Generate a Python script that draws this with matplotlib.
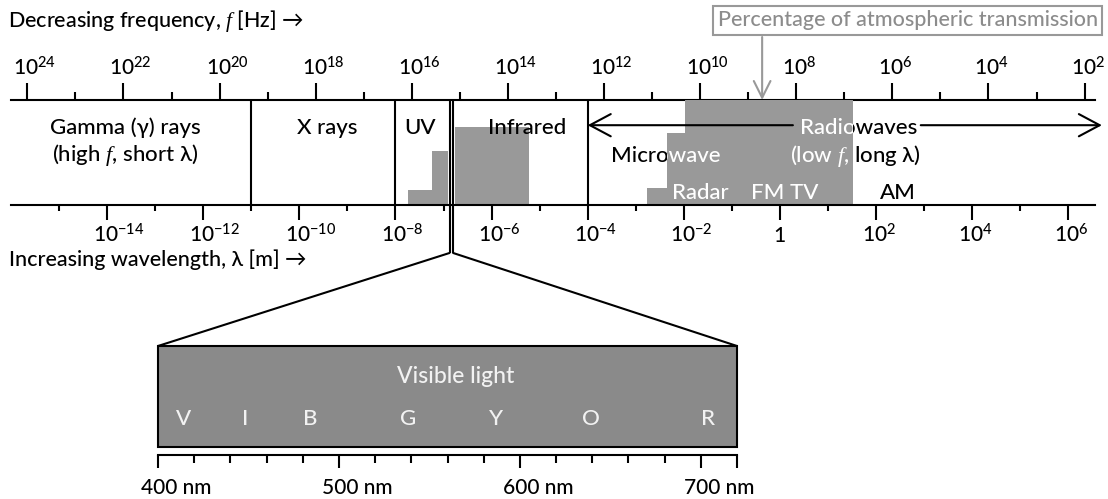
import numpy as np
import matplotlib
matplotlib.use('Agg')
import matplotlib.pyplot as plt
from matplotlib.patches import Rectangle, ConnectionPatch
from matplotlib.transforms import ScaledTranslation, Bbox, TransformedBbox

plt.rcParams['font.family'] = ['Lato', 'DejaVu Sans']
plt.rcParams['font.weight'] = 'medium'
plt.rcParams['mathtext.fontset'] = 'custom'
plt.rcParams['mathtext.rm'] = 'Lato:medium'
plt.rcParams['mathtext.it'] = 'Liberation Serif:italic'

# wavelength axis, in log10(metres)
WAVE_MAJOR = np.arange(-14, 7, 2)
WAVE_MINOR = np.arange(-15, 6, 2)
# frequency axis, in log10(Hz)
FREQ_MAJOR = np.arange(24, 1, -2)
FREQ_MINOR = np.arange(23, 2, -2)
FREQ_SHIFT = 8.34          # log10 f = FREQ_SHIFT - log10 lambda (as drawn)

BAND_EDGES = [-11, -8, -4]          # gamma|x, x|uv, ir|microwave
VISIBLE_EDGES = [-6.875, -6.80]     # the thin visible slot

# percentage of atmospheric transmission (step blocks)
TRANS_LEFT = [-7.73, -7.24, -6.76, -2.76, -2.35, -1.98]
TRANS_RIGHT = [-7.24, -6.90, -5.23, -2.35, -1.98, 1.52]
TRANS_PCT = [14, 51, 74, 16, 69, 100]

# visible light close-up
NM_MAJOR = [400, 500, 600, 700, 720]
NM_LABELS = ['400 nm', '500 nm', '600 nm', '700 nm', '']
NM_MINOR = np.arange(420, 720, 20)
COLOR_LETTERS = ['V', 'I', 'B', 'G', 'Y', 'O', 'R']
COLOR_NM = [414, 448, 484, 538, 587, 639, 704]

LW = 1.5
GREY = '#999999'
FS = 15.5

fig = plt.figure(figsize=(11.08, 4.99), dpi=100)
ax = fig.add_axes([11 / 1108, 1 - 205 / 499, 1083.7 / 1108, 105 / 499])
ax.set_xlim(-16.0, 6.55)
ax.set_ylim(0, 100)

ax.bar(TRANS_LEFT, TRANS_PCT, width=np.subtract(TRANS_RIGHT, TRANS_LEFT),
       align='edge', color=GREY, linewidth=0, zorder=1)
for x in BAND_EDGES:
    ax.axvline(x, color='black', lw=LW, zorder=2)
ax.vlines(VISIBLE_EDGES, -45.7, 100, color='black', lw=LW, clip_on=False, zorder=2)

for s in ['left', 'right', 'top']:
    ax.spines[s].set_visible(False)
ax.spines['bottom'].set_linewidth(LW)
ax.set_yticks([])

wave_labels = ['1' if n == 0 else f'$10^{{{n}}}$' for n in WAVE_MAJOR]
ax.set_xticks(WAVE_MAJOR, wave_labels)
ax.set_xticks(WAVE_MINOR, minor=True)
ax.tick_params(axis='x', which='major', length=10.8, width=LW, labelsize=15, pad=15.8)
ax.tick_params(axis='x', which='minor', length=4.3, width=LW)

sec = ax.secondary_xaxis('top', functions=(lambda x: FREQ_SHIFT - x,
                                           lambda x: FREQ_SHIFT - x))
sec.set_ticks(FREQ_MAJOR, [f'$10^{{{n}}}$' for n in FREQ_MAJOR])
sec.set_ticks(FREQ_MINOR, minor=True)
sec.tick_params(axis='x', which='major', length=12.2, width=LW, labelsize=15, pad=5.8)
sec.tick_params(axis='x', which='minor', length=6.1, width=LW)
sec.spines['top'].set_linewidth(LW)


def shift_labels(labels, dx_px):
    # number part sits over the tick, exponent hangs to the right
    for lbl in labels:
        lbl.set_verticalalignment('baseline')
        if lbl.get_text() in ('1', ''):
            continue
        lbl.set_horizontalalignment('left')
        lbl.set_transform(lbl.get_transform() +
                          ScaledTranslation(dx_px / 100, 0, fig.dpi_scale_trans))


shift_labels(ax.get_xticklabels(), -14)
shift_labels(sec.get_xticklabels(), -14)

# band names
plain = [('Gamma (γ) rays', -13.63, 67.6), ('(high $f$, short λ)', -13.63, 42.0),
         ('X rays', -9.42, 67.6), ('UV', -7.48, 67.6), ('Infrared', -5.26, 67.6),
         ('AM', 2.45, 5.5)]
for s, x, y in plain:
    ax.text(x, y, s, ha='center', va='baseline', fontsize=16, color='black', zorder=3)

white = [('Radar', -1.66, 5.5), ('FM TV', 0.10, 5.5)]
for s, x, y in white:
    ax.text(x, y, s, ha='center', va='baseline', fontsize=16, color='white', zorder=3)

# text that is white where it crosses the grey block, black elsewhere
split = [('Microwave', -2.37, 41.0, TRANS_LEFT[4], TRANS_RIGHT[5]),
         ('(low $f$, long λ)', 1.58, 41.0, TRANS_LEFT[4], TRANS_RIGHT[5]),
         ('Radiowaves', 1.63, 67.6, TRANS_LEFT[5], TRANS_RIGHT[5])]
for s, x, y, g0, g1 in split:
    for color, lo, hi in [('black', -30, g0), ('white', g0, g1), ('black', g1, 30)]:
        t = ax.text(x, y, s, ha='center', va='baseline', fontsize=16, color=color, zorder=3)
        t.set_clip_box(TransformedBbox(Bbox([[lo, -500], [hi, 500]]), ax.transData))
        t.set_clip_on(True)

# radio waves span arrows
arrow_kw = dict(arrowstyle='->,head_length=0.75,head_width=0.4', color='black',
                lw=LW, shrinkA=0, shrinkB=0, mutation_scale=20)
ax.annotate('', xy=(-4, 76), xytext=(0.27, 76), arrowprops=arrow_kw, annotation_clip=False)
ax.annotate('', xy=(6.70, 76), xytext=(2.93, 76), arrowprops=arrow_kw, annotation_clip=False)

# transmission legend box
ax.text(2.66, 176, 'Percentage of atmospheric transmission', ha='center', va='center',
        fontsize=FS, color='#8c8c8c',
        bbox=dict(boxstyle='square,pad=0.2', fc='white', ec=GREY, lw=1.5))
ax.annotate('', xy=(-0.37, 100), xytext=(-0.37, 160), annotation_clip=False,
            arrowprops=dict(arrowstyle='->,head_length=0.6,head_width=0.3', color=GREY,
                            lw=1.5, shrinkA=0, shrinkB=0, mutation_scale=20))

fig.text(8 / 1108, 1 - 27 / 499, 'Decreasing frequency, $f$ [Hz] →', fontsize=FS, va='baseline')
fig.text(9 / 1108, 1 - 266 / 499, 'Increasing wavelength, λ [m] →', fontsize=FS, va='baseline')

# visible light close-up
axv = fig.add_axes([158 / 1108, 1 - 447 / 499, 579 / 1108, 101 / 499])
axv.set_xlim(400, 720)
axv.set_ylim(0, 1)
axv.patch.set_visible(False)
axv.add_patch(Rectangle((0, 0), 1, 1, transform=axv.transAxes, fc='#8a8a8a',
                        ec='black', lw=LW, clip_on=False))
for s in ['left', 'right', 'top']:
    axv.spines[s].set_visible(False)
axv.spines['bottom'].set_position(('outward', 5.8))
axv.spines['bottom'].set_linewidth(LW)
axv.set_yticks([])
axv.set_xticks(NM_MAJOR, NM_LABELS)
axv.set_xticks(NM_MINOR, minor=True)
axv.tick_params(axis='x', which='major', length=9.4, width=LW, labelsize=15, pad=18.5)
axv.tick_params(axis='x', which='minor', length=5.8, width=LW)
shift_labels(axv.get_xticklabels(), -17)

axv.text(564.5, 0.63, 'Visible light', ha='center', va='baseline', fontsize=16.5, color='#f2f2f2')
for letter, nm in zip(COLOR_LETTERS, COLOR_NM):
    axv.text(nm, 0.218, letter, ha='center', va='baseline', fontsize=16, color='#f2f2f2')

for xv, xn in zip(VISIBLE_EDGES, [400, 720]):
    con = ConnectionPatch(xyA=(xv, -45.7), coordsA=ax.transData,
                          xyB=(xn, 1), coordsB=axv.get_xaxis_transform(),
                          color='black', lw=LW)
    fig.add_artist(con)

fig.savefig('out.png', dpi=100)
